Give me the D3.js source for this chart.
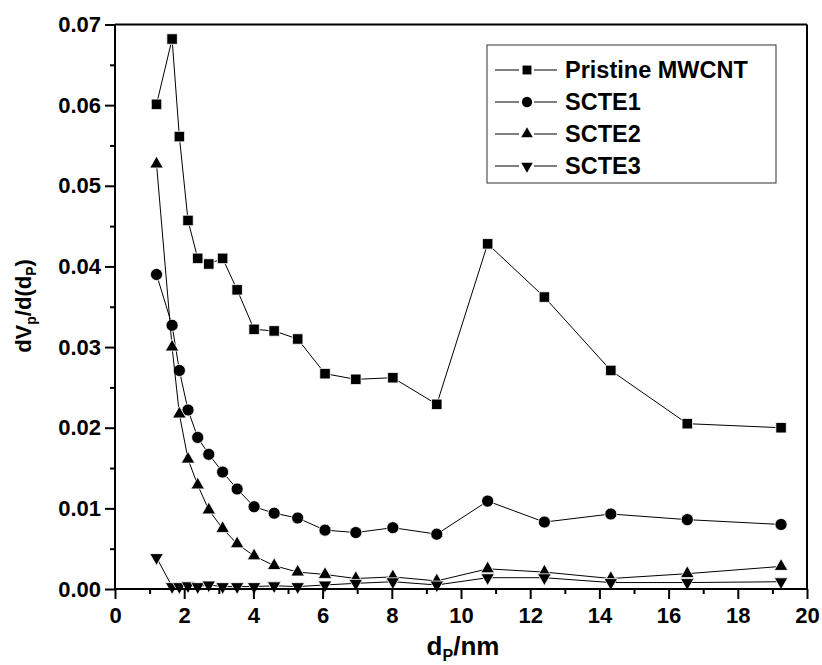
<!DOCTYPE html>
<html lang="en">
<head>
    <meta charset="UTF-8">
    <title>Pore size distribution</title>
    <script src="https://cdn.jsdelivr.net/npm/d3@7/dist/d3.min.js"></script>
    <style>
        body { margin: 0; background: #fff; }
        text { font-family: "Liberation Sans", Arial, sans-serif; font-weight: bold; }
    </style>
</head>
<body>
    <div id="chart"></div>
    <script>
        // pore diameter (nm), shared by all series
        const dp = [1.2, 1.65, 1.86, 2.11, 2.39, 2.71, 3.11, 3.53, 4.02, 4.6,
                    5.28, 6.07, 6.96, 8.03, 9.3, 10.77, 12.41, 14.33, 16.54, 19.25];

        const pristine = [0.0601, 0.0682, 0.0561, 0.0457, 0.0410, 0.0403, 0.0410, 0.0371, 0.0322, 0.0320,
                          0.0310, 0.0267, 0.0260, 0.0262, 0.0229, 0.0428, 0.0362, 0.0271, 0.0205, 0.0200];
        const scte1 = [0.0390, 0.0327, 0.0271, 0.0222, 0.0188, 0.0167, 0.0145, 0.0124, 0.0102, 0.0094,
                       0.0088, 0.0073, 0.0070, 0.0076, 0.0068, 0.0109, 0.0083, 0.0093, 0.0086, 0.0080];
        const scte2 = [0.0527, 0.0300, 0.0217, 0.0161, 0.0129, 0.0098, 0.0075, 0.0056, 0.0041, 0.0029,
                       0.0021, 0.0018, 0.0013, 0.0015, 0.0010, 0.0025, 0.0021, 0.0013, 0.0019, 0.0028];
        const scte3 = [0.0039, 0.0003, 0.0003, 0.0004, 0.0003, 0.0005, 0.0003, 0.0003, 0.0003, 0.0004,
                       0.0003, 0.0005, 0.0007, 0.0009, 0.0005, 0.0014, 0.0014, 0.0008, 0.0008, 0.0009];

        const seriesNames = ["Pristine MWCNT", "SCTE1", "SCTE2", "SCTE3"];
        const seriesValues = [pristine, scte1, scte2, scte3];
        const symbols = ["square", "circle", "up", "down"];

        const xTicks = [0, 2, 4, 6, 8, 10, 12, 14, 16, 18, 20];
        const yTicks = [0, 0.01, 0.02, 0.03, 0.04, 0.05, 0.06, 0.07];

        const W = 822, H = 665;
        const margin = { top: 24.5, right: 15, bottom: 76, left: 115 },
            width = W - margin.left - margin.right,
            height = H - margin.top - margin.bottom;

        const svg = d3.select("#chart").append("svg")
            .attr("width", W).attr("height", H);
        const g = svg.append("g")
            .attr("transform", `translate(${margin.left},${margin.top})`);

        const x = d3.scaleLinear().domain([0, 20]).range([0, width]);
        const y = d3.scaleLinear().domain([0, 0.07]).range([height, 0]);

        // marker shapes
        function symbolPath(kind) {
            if (kind === "square") return d3.symbol(d3.symbolSquare, 110)();
            if (kind === "circle") return d3.symbol(d3.symbolCircle, 115)();
            return d3.symbol(d3.symbolTriangle, 80)();
        }

        // series (lines + markers)
        seriesValues.forEach((vals, i) => {
            const pts = dp.map((d, k) => [d, vals[k]]);
            g.append("path")
                .datum(pts)
                .attr("fill", "none")
                .attr("stroke", "#000")
                .attr("stroke-width", 1)
                .attr("d", d3.line().x(d => x(d[0])).y(d => y(d[1])));
            g.append("g").selectAll("path")
                .data(pts)
                .enter().append("path")
                .attr("d", symbolPath(symbols[i]))
                .attr("transform", d => `translate(${x(d[0])},${y(d[1])})` + (symbols[i] === "down" ? " rotate(180)" : ""))
                .attr("fill", "#000")
                .attr("stroke", "#fff")
                .attr("stroke-width", 0.8);
        });

        // frame (top and right)
        g.append("line").attr("x1", 0).attr("x2", width).attr("y1", 0).attr("y2", 0)
            .attr("stroke", "#000").attr("stroke-width", 2);
        g.append("line").attr("x1", width).attr("x2", width).attr("y1", 0).attr("y2", height)
            .attr("stroke", "#000").attr("stroke-width", 2);

        // x axis
        const xAxis = g.append("g")
            .attr("transform", `translate(0,${height})`)
            .call(d3.axisBottom(x).tickValues(xTicks).tickSize(10).tickPadding(4).tickFormat(d3.format("d")));
        g.append("g")
            .attr("transform", `translate(0,${height})`)
            .call(d3.axisBottom(x).tickValues(d3.range(1, 20, 2)).tickSize(5).tickFormat(""))
            .call(a => a.select(".domain").remove());

        // y axis
        const yAxis = g.append("g")
            .call(d3.axisLeft(y).tickValues(yTicks).tickSize(10).tickPadding(4).tickFormat(d3.format(".2f")));
        g.append("g")
            .call(d3.axisLeft(y).tickValues(d3.range(0.005, 0.07, 0.01)).tickSize(5).tickFormat(""))
            .call(a => a.select(".domain").remove());

        g.selectAll(".domain").attr("stroke-width", 2).attr("d", null);
        xAxis.select(".domain").attr("d", `M0,0H${width}`);
        yAxis.select(".domain").attr("d", `M0,0V${height}`);
        g.selectAll(".tick line").attr("stroke-width", 2);
        g.selectAll(".tick text")
            .attr("font-size", 22).attr("fill", "#000")
            .attr("font-family", "Liberation Sans, Arial, sans-serif").attr("font-weight", "bold");
        xAxis.selectAll(".tick text").attr("dy", "0.9em");

        // axis titles
        const xt = svg.append("text")
            .attr("x", 463).attr("y", 655)
            .attr("text-anchor", "middle").attr("font-size", 26);
        xt.append("tspan").text("d");
        xt.append("tspan").text("P").attr("font-size", 16).attr("dy", 6);
        xt.append("tspan").text("/nm").attr("dy", -6);

        const yt = svg.append("text")
            .attr("transform", "translate(31,306) rotate(-90)")
            .attr("text-anchor", "middle").attr("font-size", 22);
        yt.append("tspan").text("dV");
        yt.append("tspan").text("p").attr("font-size", 14).attr("dy", 5);
        yt.append("tspan").text("/d(d").attr("dy", -5);
        yt.append("tspan").text("P").attr("font-size", 14).attr("dy", 5);
        yt.append("tspan").text(")").attr("dy", -5);

        // legend
        const leg = svg.append("g");
        leg.append("rect")
            .attr("x", 487).attr("y", 45).attr("width", 289).attr("height", 138)
            .attr("fill", "#fff").attr("stroke", "#333").attr("stroke-width", 1);
        seriesNames.forEach((name, i) => {
            const ly = 70 + i * 32;
            leg.append("line").attr("x1", 495).attr("x2", 519).attr("y1", ly).attr("y2", ly)
                .attr("stroke", "#000").attr("stroke-width", 1);
            leg.append("line").attr("x1", 534).attr("x2", 557).attr("y1", ly).attr("y2", ly)
                .attr("stroke", "#000").attr("stroke-width", 1);
            leg.append("path")
                .attr("d", symbolPath(symbols[i]))
                .attr("transform", `translate(527,${ly}) scale(0.85)` + (symbols[i] === "down" ? " rotate(180)" : ""))
                .attr("fill", "#000");
            leg.append("text")
                .attr("x", 565).attr("y", ly + 8)
                .attr("font-size", 23.5)
                .text(name);
        });
    </script>
</body>
</html>
